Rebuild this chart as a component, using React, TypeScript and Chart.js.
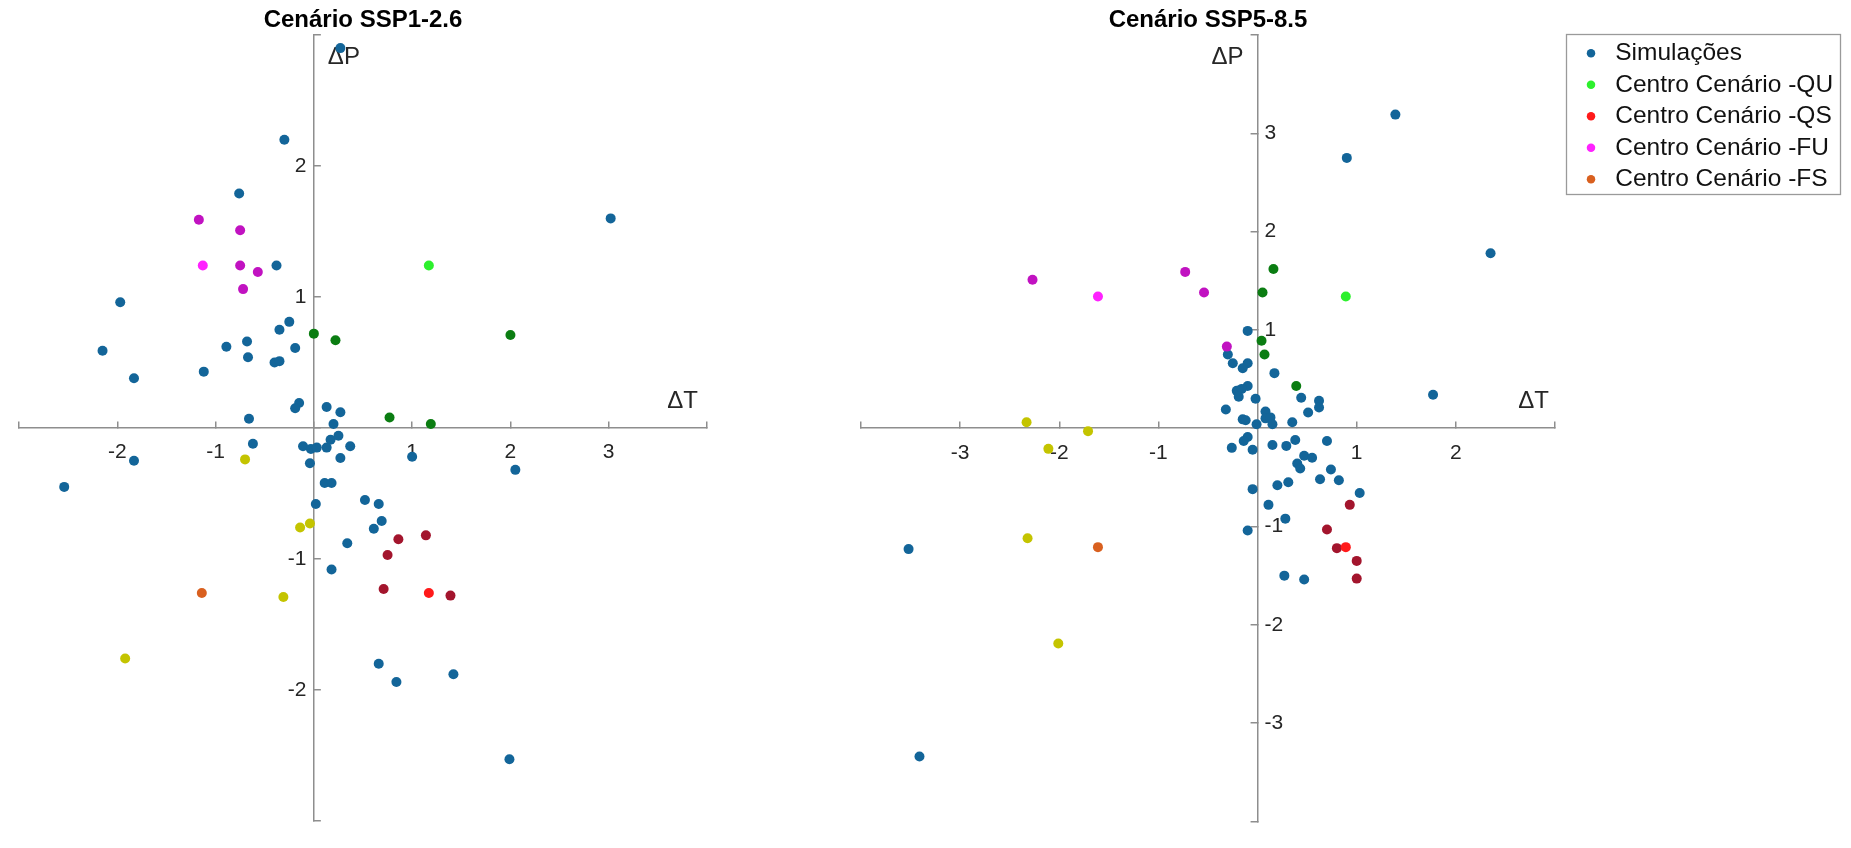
import React, { useEffect, useRef } from 'react';
import { Chart, registerables } from 'chart.js';

Chart.register(...registerables);

const FONT = '"Liberation Sans", Arial, Helvetica, sans-serif';
const AXIS_COLOR = '#8e8e8e';
const TICK_TEXT = '#262626';

// ---------- colours ----------
const COL_SIM = '#136599';
const COL_QU = '#2df02d';
const COL_QU_GRP = '#0b7d12';
const COL_QS = '#ff1a1a';
const COL_QS_GRP = '#a3152d';
const COL_FU = '#ff22ff';
const COL_FU_GRP = '#c112c1';
const COL_FS = '#d9601f';
const COL_FS_GRP = '#c4c400';

// ---------- SSP1-2.6 (left) : [ΔT, ΔP] ----------
const ssp126Simulacoes: [number, number][] = [
  [0.27, 2.90], [-0.30, 2.20], [-0.76, 1.79], [3.02, 1.60], [-0.38, 1.24], [-1.97, 0.96],
  [-0.25, 0.81], [-0.35, 0.75], [-2.15, 0.59], [-0.89, 0.62], [-0.68, 0.66], [-0.19, 0.61],
  [-0.67, 0.54], [-0.40, 0.50], [-0.35, 0.51], [-1.83, 0.38], [-1.12, 0.43], [-0.15, 0.19],
  [-0.19, 0.15], [0.13, 0.16], [0.27, 0.12], [-0.66, 0.07], [0.20, 0.03],
  [-0.62, -0.12], [-1.83, -0.25], [-2.54, -0.45], [-0.11, -0.14], [-0.03, -0.16], [0.03, -0.15],
  [0.13, -0.15], [0.17, -0.09], [0.25, -0.06], [0.37, -0.14], [0.27, -0.23], [-0.04, -0.27],
  [1.00, -0.22], [2.05, -0.32], [0.11, -0.42], [0.18, -0.42], [0.52, -0.55], [0.66, -0.58],
  [0.02, -0.58], [0.69, -0.71], [0.61, -0.77], [0.34, -0.88], [0.18, -1.08], [0.66, -1.80],
  [0.84, -1.94], [1.42, -1.88], [1.99, -2.53],
];
const ssp126CentroQU: [number, number][] = [[1.17, 1.24]];
const ssp126GrupoQU: [number, number][] = [[0.00, 0.72], [0.22, 0.67], [2.00, 0.71], [0.77, 0.08], [1.19, 0.03]];
const ssp126CentroQS: [number, number][] = [[1.17, -1.26]];
const ssp126GrupoQS: [number, number][] = [[0.86, -0.85], [1.14, -0.82], [0.75, -0.97], [0.71, -1.23], [1.39, -1.28]];
const ssp126CentroFU: [number, number][] = [[-1.13, 1.24]];
const ssp126GrupoFU: [number, number][] = [[-1.17, 1.59], [-0.75, 1.51], [-0.75, 1.24], [-0.57, 1.19], [-0.72, 1.06]];
const ssp126CentroFS: [number, number][] = [[-1.14, -1.26]];
const ssp126GrupoFS: [number, number][] = [[-0.70, -0.24], [-0.14, -0.76], [-0.04, -0.73], [-0.31, -1.29], [-1.92, -1.76]];

const ssp126XTickLabels = [-2, -1, 1, 2, 3];
const ssp126YTickLabels = [-2, -1, 1, 2];

// ---------- SSP5-8.5 (right) : [ΔT, ΔP] ----------
const ssp585Simulacoes: [number, number][] = [
  [1.39, 3.19], [0.90, 2.75], [2.35, 1.78], [-0.10, 0.99], [1.77, 0.34], [-0.30, 0.75],
  [-0.25, 0.66], [-0.10, 0.66], [-0.15, 0.61], [0.17, 0.56], [-0.10, 0.43], [-0.21, 0.38],
  [-0.16, 0.40], [-0.19, 0.32], [-0.02, 0.30], [-0.32, 0.19], [-0.15, 0.09], [-0.12, 0.08],
  [-0.01, 0.04], [0.08, 0.17], [0.08, 0.10], [0.13, 0.11], [0.15, 0.04], [0.35, 0.06],
  [0.44, 0.31], [0.51, 0.16], [0.62, 0.28], [0.62, 0.21],
  [-0.10, -0.09], [-0.14, -0.13], [-0.26, -0.20], [-0.05, -0.22], [0.15, -0.17], [0.29, -0.18],
  [0.38, -0.12], [0.70, -0.13], [0.47, -0.28], [0.55, -0.30], [0.40, -0.36], [0.43, -0.41],
  [0.74, -0.42], [0.63, -0.52], [0.82, -0.53], [0.20, -0.58], [0.31, -0.55], [-0.05, -0.62],
  [1.03, -0.66], [0.11, -0.78], [0.28, -0.92], [-0.10, -1.04], [0.27, -1.50], [0.47, -1.54],
  [-3.52, -1.23], [-3.41, -3.34],
];
const ssp585CentroQU: [number, number][] = [[0.89, 1.34]];
const ssp585GrupoQU: [number, number][] = [[0.16, 1.62], [0.05, 1.38], [0.04, 0.89], [0.07, 0.75], [0.39, 0.43]];
const ssp585CentroQS: [number, number][] = [[0.89, -1.21]];
const ssp585GrupoQS: [number, number][] = [[0.93, -0.78], [0.70, -1.03], [0.80, -1.22], [1.00, -1.35], [1.00, -1.53]];
const ssp585CentroFU: [number, number][] = [[-1.61, 1.34]];
const ssp585GrupoFU: [number, number][] = [[-2.27, 1.51], [-0.73, 1.59], [-0.54, 1.38], [-0.31, 0.83]];
const ssp585CentroFS: [number, number][] = [[-1.61, -1.21]];
const ssp585GrupoFS: [number, number][] = [[-2.33, 0.06], [-1.71, -0.03], [-2.11, -0.21], [-2.32, -1.12], [-2.01, -2.19]];

const ssp585XTickLabels = [-3, -2, -1, 1, 2];
const ssp585YTickLabels = [-3, -2, -1, 1, 2, 3];

const legendNames = ['Simulações', 'Centro Cenário -QU', 'Centro Cenário -QS', 'Centro Cenário -FU', 'Centro Cenário -FS'];

type Pts = [number, number][];

function ds(label: string, pts: Pts, color: string, order: number, inLegend: boolean) {
  return {
    label,
    data: pts.map(([x, y]) => ({ x, y })),
    backgroundColor: color,
    borderColor: color,
    pointRadius: 5,
    pointHoverRadius: 5,
    pointBorderWidth: 0,
    pointStyle: 'circle',
    showLine: false,
    order,
    inLegend,
  };
}

interface PanelCfg {
  title: string;
  canvasLeft: number;
  canvasWidth: number;
  padLeft: number;
  padRight: number;
  xMin: number; xMax: number; yMin: number; yMax: number;
  xLabels: number[]; yLabels: number[];
  ySide: 'left' | 'right';
  sets: { sim: Pts; cQU: Pts; gQU: Pts; cQS: Pts; gQS: Pts; cFU: Pts; gFU: Pts; cFS: Pts; gFS: Pts };
  legend: boolean;
}

const leftCfg: PanelCfg = {
  title: 'Cenário SSP1-2.6',
  canvasLeft: 0, canvasWidth: 726, padLeft: 13, padRight: 13,
  xMin: -3, xMax: 4, yMin: -3, yMax: 3,
  xLabels: ssp126XTickLabels, yLabels: ssp126YTickLabels, ySide: 'left',
  sets: {
    sim: ssp126Simulacoes, cQU: ssp126CentroQU, gQU: ssp126GrupoQU, cQS: ssp126CentroQS, gQS: ssp126GrupoQS,
    cFU: ssp126CentroFU, gFU: ssp126GrupoFU, cFS: ssp126CentroFS, gFS: ssp126GrupoFS,
  },
  legend: false,
};

const rightCfg: PanelCfg = {
  title: 'Cenário SSP5-8.5',
  canvasLeft: 842, canvasWidth: 1009, padLeft: 13, padRight: 296,
  xMin: -4, xMax: 3, yMin: -4, yMax: 4,
  xLabels: ssp585XTickLabels, yLabels: ssp585YTickLabels, ySide: 'right',
  sets: {
    sim: ssp585Simulacoes, cQU: ssp585CentroQU, gQU: ssp585GrupoQU, cQS: ssp585CentroQS, gQS: ssp585GrupoQS,
    cFU: ssp585CentroFU, gFU: ssp585GrupoFU, cFS: ssp585CentroFS, gFS: ssp585GrupoFS,
  },
  legend: true,
};

function Panel({ cfg }: { cfg: PanelCfg }) {
  const ref = useRef<HTMLCanvasElement>(null);
  useEffect(() => {
    const canvas = ref.current;
    if (!canvas) return;
    const s = cfg.sets;
    const datasets: any[] = [
      ds(legendNames[0], s.sim, COL_SIM, 3, true),
      ds(legendNames[1], s.cQU, COL_QU, 0, true),
      ds(legendNames[2], s.cQS, COL_QS, 0, true),
      ds(legendNames[3], s.cFU, COL_FU, 0, true),
      ds(legendNames[4], s.cFS, COL_FS, 0, true),
      ds('Grupo -QU', s.gQU, COL_QU_GRP, 1, false),
      ds('Grupo -QS', s.gQS, COL_QS_GRP, 1, false),
      ds('Grupo -FU', s.gFU, COL_FU_GRP, 1, false),
      ds('Grupo -FS', s.gFS, COL_FS_GRP, 1, false),
    ];

    const axisPlugin = {
      id: 'crossAxes',
      afterLayout(chart: any) {
        const x0 = chart.scales.x.getPixelForValue(0);
        const y = chart.scales.y;
        // place the vertical axis at ΔT = 0; keep a label strip on the tick-label side
        if (cfg.ySide === 'left') {
          y.left = x0 - 80; y.right = x0;
        } else {
          y.left = x0; y.right = x0 + 80;
        }
        y.width = 80;
        if (cfg.legend && chart.legend) {
          const lg = chart.legend;
          lg.left = 1572 - cfg.canvasLeft; lg.top = 34;
          lg.width = 290; lg.height = 200;
          lg.right = lg.left + lg.width; lg.bottom = lg.top + lg.height;
        }
      },
      beforeDatasetsDraw(chart: any) {
        const { ctx, scales } = chart;
        const x0 = scales.x.getPixelForValue(0);
        const y0 = scales.y.getPixelForValue(0);
        ctx.save();
        ctx.font = `24px ${FONT}`;
        ctx.fillStyle = TICK_TEXT;
        ctx.textBaseline = 'middle';
        if (cfg.ySide === 'left') {
          ctx.textAlign = 'left';
          ctx.fillText('ΔP', x0 + 14, chart.chartArea.top + 22);
        } else {
          ctx.textAlign = 'right';
          ctx.fillText('ΔP', x0 - 14, chart.chartArea.top + 22);
        }
        ctx.textAlign = 'right';
        ctx.fillText('ΔT', chart.chartArea.right - (cfg.ySide === 'left' ? 9 : 6), y0 - 27);
        ctx.restore();
      },
      afterDraw(chart: any) {
        if (!cfg.legend) return;
        const { ctx } = chart;
        ctx.save();
        ctx.strokeStyle = '#9a9a9a';
        ctx.lineWidth = 1.3;
        ctx.strokeRect(1566 - cfg.canvasLeft + 0.5, 34.5, 274, 160);
        ctx.restore();
      },
    };

    const chart = new Chart(canvas, {
      type: 'scatter',
      data: { datasets },
      plugins: [axisPlugin],
      options: {
        animation: false,
        responsive: false,
        maintainAspectRatio: false,
        events: [],
        layout: { padding: { left: cfg.padLeft, right: cfg.padRight, top: 0, bottom: 2 } },
        plugins: {
          title: {
            display: true,
            text: cfg.title,
            fullSize: false,
            color: '#000',
            font: { family: FONT, size: 24, weight: 'bold' },
            padding: { top: 6, bottom: 0.2 },
          },
          tooltip: { enabled: false },
          legend: cfg.legend
            ? {
                display: true,
                position: 'chartArea',
                align: 'start',
                labels: {
                  usePointStyle: true,
                  pointStyle: 'circle',
                  boxWidth: 24,
                  boxHeight: 6,
                  padding: 7,
                  color: '#111',
                  font: { family: FONT, size: 24.5 },
                  filter: (item: any, data: any) => !!data.datasets[item.datasetIndex].inLegend,
                  sort: (a: any, b: any) => a.datasetIndex - b.datasetIndex,
                },
              }
            : { display: false },
        },
        scales: {
          x: {
            type: 'linear',
            min: cfg.xMin,
            max: cfg.xMax,
            position: { y: 0 },
            afterFit: (sc: any) => { sc.height = 0; },
            ticks: {
              stepSize: 1,
              autoSkip: false,
              maxRotation: 0,
              minRotation: 0,
              padding: 19,
              color: TICK_TEXT,
              font: { family: FONT, size: 21 },
              callback: (v: any) => (cfg.xLabels.includes(Number(v)) ? String(v) : ''),
            },
            grid: { drawOnChartArea: false, drawTicks: true, tickLength: -7, color: AXIS_COLOR, lineWidth: 1.5 },
            border: { display: true, color: AXIS_COLOR, width: 1.5 },
          },
          y: {
            type: 'linear',
            min: cfg.yMin,
            max: cfg.yMax,
            position: cfg.ySide,
            afterFit: (sc: any) => { sc.width = 0; },
            ticks: {
              stepSize: 1,
              autoSkip: false,
              padding: cfg.ySide === 'left' ? 14.5 : 14,
              color: TICK_TEXT,
              font: { family: FONT, size: 21 },
              callback: (v: any) => (cfg.yLabels.includes(Number(v)) ? String(v) : ''),
            },
            grid: { drawOnChartArea: false, drawTicks: true, tickLength: -7, color: AXIS_COLOR, lineWidth: 1.5 },
            border: { display: true, color: AXIS_COLOR, width: 1.5 },
          },
        },
      } as any,
    });
    return () => chart.destroy();
  }, [cfg]);
  return (
    <canvas
      ref={ref}
      width={cfg.canvasWidth}
      height={848}
      style={{ position: 'absolute', left: cfg.canvasLeft, top: 0, width: cfg.canvasWidth, height: 848, display: 'block' }}
    />
  );
}

export default function App() {
  return (
    <div style={{ position: 'absolute', left: 0, top: 0, width: 1851, height: 848, background: '#fff', overflow: 'hidden' }}>
      <Panel cfg={leftCfg} />
      <Panel cfg={rightCfg} />
    </div>
  );
}
